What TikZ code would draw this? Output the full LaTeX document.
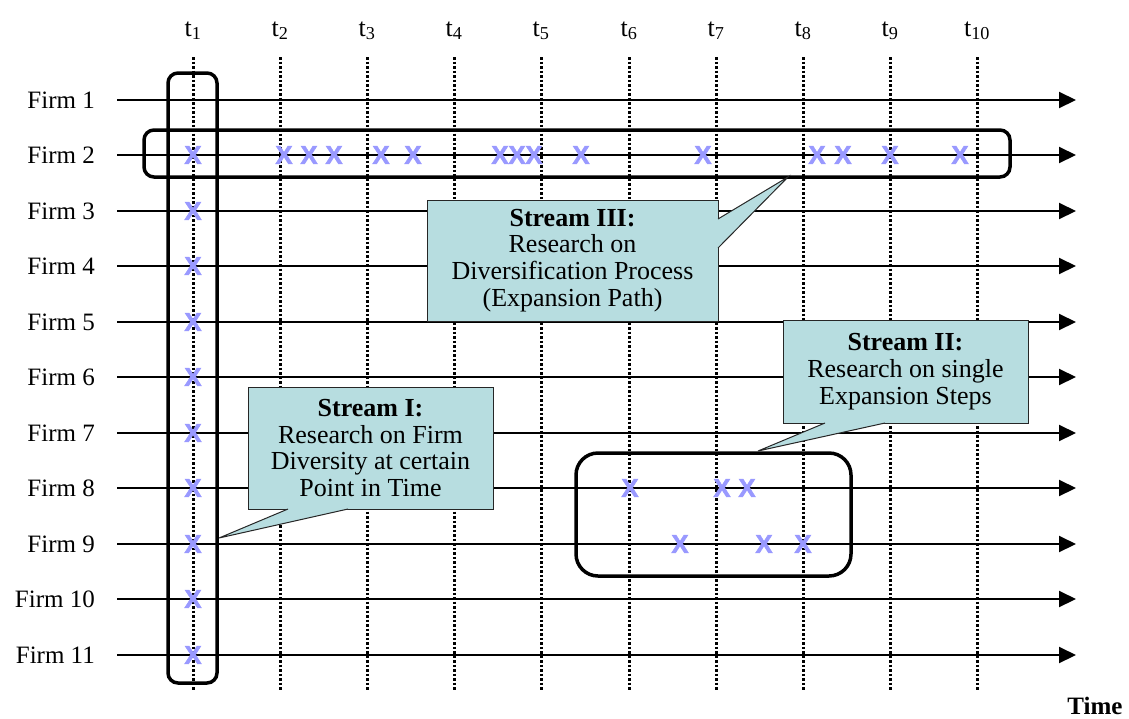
\documentclass[tikz,border=0pt]{standalone}
\usepackage{fontspec}
\setmainfont{Liberation Serif}
\newfontfamily\markfont[FakeBold=2]{Liberation Sans}
\usepackage{tikz}
\usetikzlibrary{arrows.meta,positioning}
\definecolor{markblue}{HTML}{9999FF}
\definecolor{calloutteal}{HTML}{B7DDE0}

\begin{document}
\begin{tikzpicture}[x=1pt, y=-1pt,
        firmlabel/.style={anchor=east, inner sep=0pt, font=\fontsize{25}{27}\selectfont},
        timelabel/.style={anchor=base, inner sep=0pt, font=\fontsize{26}{28}\selectfont},
        rowline/.style={line width=2pt, -{Triangle[length=17pt, width=16pt]}},
        tickline/.style={line width=3pt, dash pattern=on 2.5pt off 2pt},
        xmark/.style={inner sep=0pt, text=markblue, font=\markfont\bfseries\fontsize{26}{26}\selectfont},
        groupbox/.style={draw, line width=3.5pt, rounded corners=#1, inner sep=0pt},
        groupbox/.default={10pt},
        callout/.style={draw=black!85, line width=1pt, fill=calloutteal, align=center, inner sep=0pt, outer sep=0pt, font=\fontsize{26}{26.7}\selectfont},
        wedgefill/.style={fill=calloutteal},
        wedgeline/.style={draw=black!85, line width=1pt},
    ]
    \useasboundingbox[fill=white] (0,0) rectangle (1129,718);

    % === Time axis: t labels and dotted columns ===
    \foreach \tx [count=\j] in {193,280,367,454,541,629,716,803,890,977} {
        \node[timelabel] (t\j) at (\tx,36) {t\textsubscript{\j}};
        \coordinate (tb\j) at (\tx,690);
        \draw[tickline] ([yshift=-21pt]t\j.base) -- (tb\j);
    }

    % === Firms: labels and arrows ===
    \foreach \fy [count=\i] in {100,155,211,266,322,377,433,488,544,599,655} {
        \node[firmlabel] (firm\i) at (95,\fy) {Firm \i};
        \coordinate (fe\i) at (1076,\fy);
        \draw[rowline] ([xshift=22pt]firm\i.east) -- (fe\i);
    }
    \node[inner sep=0pt, font=\fontsize{25}{27}\selectfont\bfseries] (timeaxis) at (1095,706) {Time};

    % === Expansion steps (X marks) ===
    % Firm 2 over time
    \foreach \px [count=\k] in {193,284,309,334,381,413,500,517,534,581,703,817,843,890,960}
        \node[xmark] (xa\k) at (\px,155) {X};
    % all firms at t1
    \foreach \fy [count=\i] in {211,266,322,377,433,488,544,599,655}
        \node[xmark] (xc\i) at (193,\fy) {X};
    % Firm 8 and Firm 9
    \node[xmark] (xd1) at (630,488) {X};
    \node[xmark] (xd2) at (722,488) {X};
    \node[xmark] (xd3) at (747,488) {X};
    \node[xmark] (xd4) at (680,544) {X};
    \node[xmark] (xd5) at (764,544) {X};
    \node[xmark] (xd6) at (803,544) {X};

    % === Groups ===
    \node[groupbox, minimum width=49pt, minimum height=610pt] (colbox) at (192.5,378) {};
    \node[groupbox, minimum width=866pt, minimum height=47pt] (rowbox) at (577,153.5) {};
    \node[groupbox=22pt, minimum width=275pt, minimum height=123pt] (stepbox) at (713.5,514.5) {};

    % === Stream III ===
    \node[callout, minimum width=291pt, minimum height=121pt] (stream3) at (572.5,260.5) {\textbf{Stream III:}\\Research on\\Diversification Process\\(Expansion Path)};
    \coordinate (stream3tip) at (788,177);
    \fill[wedgefill] ([xshift=-1pt,yshift=41.5pt]stream3.east) -- ([yshift=41.5pt]stream3.east) -- (stream3tip) -- ([yshift=12.5pt]stream3.east) -- ([xshift=-1pt,yshift=12.5pt]stream3.east) -- cycle;
    \draw[wedgeline] ([yshift=41.5pt]stream3.east) -- (stream3tip) -- ([yshift=12.5pt]stream3.east);

    % === Stream I ===
    \node[callout, minimum width=245pt, minimum height=122pt] (stream1) at (370.5,448) {\textbf{Stream I:}\\Research on Firm\\Diversity at certain\\Point in Time};
    \coordinate (stream1tip) at (219,538);
    \fill[wedgefill] ([xshift=-82.5pt,yshift=1pt]stream1.south) -- ([xshift=-82.5pt]stream1.south) -- (stream1tip) -- ([xshift=-22.5pt]stream1.south) -- ([xshift=-22.5pt,yshift=1pt]stream1.south) -- cycle;
    \draw[wedgeline] ([xshift=-82.5pt]stream1.south) -- (stream1tip) -- ([xshift=-22.5pt]stream1.south);

    % === Stream II ===
    \node[callout, minimum width=245pt, minimum height=103pt] (stream2) at (905.5,371.5) {\textbf{Stream II:}\\Research on single\\Expansion Steps};
    \coordinate (stream2tip) at (758,451);
    \fill[wedgefill] ([xshift=-80.5pt,yshift=1pt]stream2.south) -- ([xshift=-80.5pt]stream2.south) -- (stream2tip) -- ([xshift=-20.5pt]stream2.south) -- ([xshift=-20.5pt,yshift=1pt]stream2.south) -- cycle;
    \draw[wedgeline] ([xshift=-80.5pt]stream2.south) -- (stream2tip) -- ([xshift=-20.5pt]stream2.south);

\end{tikzpicture}
\end{document}
